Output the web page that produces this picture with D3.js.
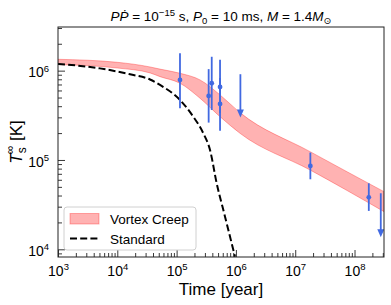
<!DOCTYPE html>
<html>
<head>
<meta charset="utf-8">
<script src="https://cdn.jsdelivr.net/npm/d3@7"></script>
<style>
  body { margin: 0; background: #fff; }
  svg { display: block; font-family: "Liberation Sans", Arial, "DejaVu Sans", sans-serif; }
</style>
</head>
<body>
<div id="chart"></div>
<script>
// vortex creep band (time in years, surface temperature in K)
const bandTime  = [1e3, 1e4, 3.56e4, 5.25e4, 1.14e5, 2.48e5, 5.4e5, 1.17e6, 1.78e7, 3.14e8];
const bandUpper = [1.34e6, 1.24e6, 1.10e6, 1.04e6, 9.35e5, 7.88e5, 5.35e5, 3.39e5, 1.24e5, 4.42e4];
const bandLower = [1.17e6, 1.07e6, 9.43e5, 8.57e5, 7.23e5, 4.91e5, 3.05e5, 1.99e5, 7.73e4, 2.64e4];

// standard cooling
const stdTime = [1e3, 5.1e3, 1.64e4, 3.56e4, 5.25e4, 1.14e5, 1.91e5, 2.82e5, 3.66e5, 4.74e5, 6.55e5, 9.66e5];
const stdTemp = [1.19e6, 1.06e6, 9.1e5, 7.96e5, 6.92e5, 4.70e5, 3.05e5, 1.99e5, 1.29e5, 5.48e4, 2.32e4, 8.26e3];

// observed sources
const obsTime = [1.14e5, 3.47e5, 3.91e5, 5.4e5, 5.4e5, 1.8e7, 1.74e8];
const obsTemp = [7.88e5, 5.21e5, 7.23e5, 6.56e5, 4.24e5, 8.57e4, 3.82e4];
const obsLow  = [3.79e5, 2.62e5, 3.63e5, 3.36e5, 2.13e5, 6.08e4, 2.69e4];
const obsHigh = [1.57e6, 1.04e6, 1.43e6, 1.32e6, 8.28e5, 1.21e5, 5.48e4];

// upper limits (limit value, arrow end)
const limTime = [1.19e6, 2.77e8];
const limTemp = [9.12e5, 4.24e4];
const limEnd  = [2.98e5, 1.36e4];

const xMajor = [1e3, 1e4, 1e5, 1e6, 1e7, 1e8];
const yMajor = [1e4, 1e5, 1e6];

const width = 391, height = 305;
const margin = {top: 27, right: 7, bottom: 48, left: 58};
const innerWidth = width - margin.left - margin.right;
const innerHeight = height - margin.top - margin.bottom;

const svg = d3.select("#chart").append("svg")
  .attr("width", width)
  .attr("height", height);

const g = svg.append("g").attr("transform", `translate(${margin.left},${margin.top})`);

const xScale = d3.scaleLog().domain([1e3, 3.14e8]).range([0, innerWidth]);
const yScale = d3.scaleLog().domain([8.2e3, 3.08e6]).range([innerHeight, 0]);

const minorTicks = (dom) => {
  const out = [];
  for (let e = Math.floor(Math.log10(dom[0])); e <= Math.ceil(Math.log10(dom[1])); e++) {
    for (let m = 2; m <= 9; m++) {
      const v = m * Math.pow(10, e);
      if (v >= dom[0] && v <= dom[1]) out.push(v);
    }
  }
  return out;
};

svg.append("clipPath").attr("id", "clip")
  .append("rect").attr("width", innerWidth).attr("height", innerHeight);

const plot = g.append("g").attr("clip-path", "url(#clip)");

// band
const band = bandTime.map((t, i) => ({t, lo: bandLower[i], hi: bandUpper[i]}));
const area = d3.area()
  .x(d => xScale(d.t))
  .y0(d => yScale(d.lo))
  .y1(d => yScale(d.hi))
  .curve(d3.curveMonotoneX);
plot.append("path")
  .datum(band)
  .attr("d", area)
  .attr("fill", "red").attr("fill-opacity", 0.3)
  .attr("stroke", "red").attr("stroke-opacity", 0.3).attr("stroke-width", 1);

// standard
const std = stdTime.map((t, i) => ({t, T: stdTemp[i]}));
plot.append("path")
  .datum(std)
  .attr("d", d3.line().x(d => xScale(d.t)).y(d => yScale(d.T)).curve(d3.curveMonotoneX))
  .attr("fill", "none")
  .attr("stroke", "black")
  .attr("stroke-width", 2)
  .attr("stroke-dasharray", "7,3.2");

// observations
const blue = "#4169e1";
const obs = obsTime.map((t, i) => ({t, T: obsTemp[i], lo: obsLow[i], hi: obsHigh[i]}));
plot.selectAll(".err").data(obs).enter().append("line")
  .attr("class", "err")
  .attr("x1", d => xScale(d.t)).attr("x2", d => xScale(d.t))
  .attr("y1", d => yScale(d.lo)).attr("y2", d => yScale(d.hi))
  .attr("stroke", blue).attr("stroke-width", 1.8);
plot.selectAll(".pt").data(obs).enter().append("circle")
  .attr("class", "pt")
  .attr("cx", d => xScale(d.t)).attr("cy", d => yScale(d.T))
  .attr("r", 2.4).attr("fill", blue);

const lims = limTime.map((t, i) => ({t, T: limTemp[i], end: limEnd[i]}));
plot.selectAll(".lim").data(lims).enter().append("line")
  .attr("class", "lim")
  .attr("x1", d => xScale(d.t)).attr("x2", d => xScale(d.t))
  .attr("y1", d => yScale(d.T)).attr("y2", d => yScale(d.end) - 4)
  .attr("stroke", blue).attr("stroke-width", 1.8);
plot.selectAll(".arrow").data(lims).enter().append("path")
  .attr("class", "arrow")
  .attr("d", d => {
    const x = xScale(d.t), y = yScale(d.end);
    return `M${x - 3.5},${y - 8}L${x + 3.5},${y - 8}L${x},${y}Z`;
  })
  .attr("fill", blue);

// axes
const gx = g.append("g").attr("transform", `translate(0,${innerHeight})`);
gx.call(d3.axisBottom(xScale).tickValues(minorTicks(xScale.domain())).tickSize(-4));
const gxMaj = g.append("g").attr("transform", `translate(0,${innerHeight})`);
gxMaj.call(d3.axisBottom(xScale).tickValues(xMajor).tickSize(-7).tickPadding(8).tickFormat(d => d));

const gy = g.append("g");
gy.call(d3.axisLeft(yScale).tickValues(minorTicks(yScale.domain())).tickSize(-4));
const gyMaj = g.append("g");
gyMaj.call(d3.axisLeft(yScale).tickValues(yMajor).tickSize(-7).tickPadding(9).tickFormat(d => d));

[gx, gy].forEach(a => a.selectAll(".tick text").remove());
[gx, gxMaj, gy, gyMaj].forEach(a => {
  a.select(".domain").remove();
  a.selectAll(".tick line").attr("stroke", "#222").attr("stroke-width", 0.9);
});

const powerLabel = function(d) {
  const t = d3.select(this);
  const e = Math.round(Math.log10(d));
  t.text(null).attr("font-size", 14).attr("fill", "#000").attr("font-family", "Liberation Sans, Arial, sans-serif");
  t.append("tspan").text("10");
  t.append("tspan").attr("font-size", 9.5).attr("dy", "-0.6em").text(e);
};
gxMaj.selectAll(".tick text").each(powerLabel).attr("dy", "0.75em");
gyMaj.selectAll(".tick text").each(powerLabel).attr("dy", "0.45em");

// frame
g.append("rect")
  .attr("width", innerWidth).attr("height", innerHeight)
  .attr("fill", "none").attr("stroke", "#222").attr("stroke-width", 1);

// x label
svg.append("text")
  .attr("x", margin.left + innerWidth / 2).attr("y", 295)
  .attr("text-anchor", "middle").attr("font-size", 17)
  .text("Time [year]");

// y label
const yl = svg.append("text")
  .attr("transform", `translate(22,${margin.top + innerHeight / 2}) rotate(-90)`)
  .attr("text-anchor", "middle").attr("font-size", 17);
yl.append("tspan").attr("font-style", "italic").text("T");
yl.append("tspan").attr("font-size", 12).attr("dy", 4).text("s");
yl.append("tspan").attr("font-size", 12).attr("dx", -7).attr("dy", -12).text("∞");
yl.append("tspan").attr("dy", 8).text(" [K]");

// title
const title = svg.append("text")
  .attr("x", margin.left + innerWidth / 2).attr("y", 20.5)
  .attr("text-anchor", "middle").attr("font-size", 13.5);
title.append("tspan").attr("font-style", "italic").text("P\u1E56");
title.append("tspan").text(" = 10");
title.append("tspan").attr("font-size", 9.5).attr("dy", -5).text("\u221215");
title.append("tspan").attr("dy", 5).text(" s, ");
title.append("tspan").attr("font-style", "italic").text("P");
title.append("tspan").attr("font-size", 9.5).attr("dy", 3).text("0");
title.append("tspan").attr("dy", -3).text(" = 10 ms, ");
title.append("tspan").attr("font-style", "italic").text("M");
title.append("tspan").text(" = 1.4");
title.append("tspan").attr("font-style", "italic").text("M");
title.append("tspan").attr("font-size", 9.5).attr("dy", 3).text("\u2299");

// legend
const lg = svg.append("g").attr("transform", "translate(64,207)");
lg.append("rect")
  .attr("width", 132).attr("height", 43).attr("rx", 3)
  .attr("fill", "white").attr("fill-opacity", 0.8)
  .attr("stroke", "#d0d0d0").attr("stroke-width", 1);
lg.append("rect")
  .attr("x", 6).attr("y", 6.5).attr("width", 29).attr("height", 10.5)
  .attr("fill", "red").attr("fill-opacity", 0.3)
  .attr("stroke", "red").attr("stroke-opacity", 0.3);
lg.append("line")
  .attr("x1", 6).attr("x2", 34).attr("y1", 31.5).attr("y2", 31.5)
  .attr("stroke", "black").attr("stroke-width", 2).attr("stroke-dasharray", "7,3.2");
lg.append("text").attr("x", 46).attr("y", 17).attr("font-size", 13.5).text("Vortex Creep");
lg.append("text").attr("x", 46).attr("y", 36.5).attr("font-size", 13.5).text("Standard");
</script>
</body>
</html>
